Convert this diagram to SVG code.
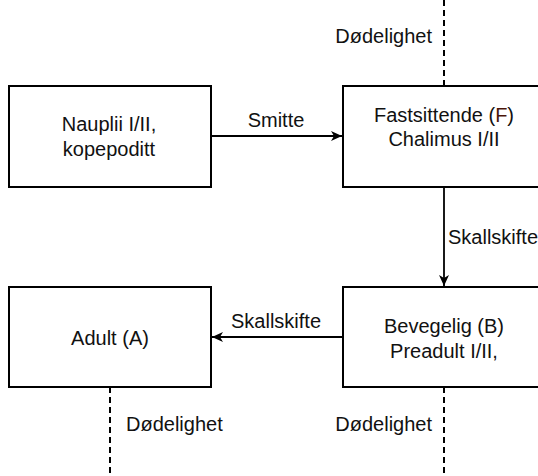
<svg xmlns="http://www.w3.org/2000/svg" width="538" height="476" viewBox="0 0 538 476">
<style>
  .box { fill: #ffffff; stroke: #000000; stroke-width: 2; }
  .t { font-family: "Liberation Sans", Arial, sans-serif; font-size: 20px; fill: #111111; }
  .c { text-anchor: middle; }
  .edge { fill: none; stroke: #000000; stroke-width: 1.8; }
  .dash { fill: none; stroke: #000000; stroke-width: 2; stroke-dasharray: 6 4; }
</style>
<defs>
  <marker id="arrow" viewBox="0 0 12 12" refX="11" refY="6" markerWidth="12" markerHeight="12" markerUnits="userSpaceOnUse" orient="auto">
    <path d="M0,1 L11,6 L0,11 L3,6 Z" fill="#000000"/>
  </marker>
</defs>
<rect width="538" height="476" fill="#ffffff"/>
<g id="connectors">
  <line class="edge" x1="211" y1="136" x2="342" y2="136" marker-end="url(#arrow)"/>
  <text class="t c" x="276" y="127">Smitte</text>
  <line class="edge" x1="444" y1="187" x2="444" y2="286" marker-end="url(#arrow)"/>
  <text class="t" x="448" y="244">Skallskifte</text>
  <line class="edge" x1="343" y1="337" x2="212" y2="337" marker-end="url(#arrow)"/>
  <text class="t c" x="276" y="328">Skallskifte</text>
  <line class="dash" x1="444" y1="0" x2="444" y2="86"/>
  <text class="t" x="432" y="43" text-anchor="end">Dødelighet</text>
  <line class="dash" x1="444" y1="387" x2="444" y2="476"/>
  <text class="t" x="432" y="431" text-anchor="end">Dødelighet</text>
  <line class="dash" x1="110" y1="387" x2="110" y2="476"/>
  <text class="t" x="126" y="431">Dødelighet</text>
</g>
<g id="nauplii">
  <rect class="box" x="9" y="86" width="202" height="101"/>
  <text class="t c" x="109" y="131">Nauplii I/II,</text>
  <text class="t c" x="109" y="156">kopepoditt</text>
</g>
<g id="fastsittende">
  <rect class="box" x="343" y="86" width="204" height="101"/>
  <text class="t c" x="444" y="122">Fastsittende (<tspan fill="#4a1408">F</tspan>)</text>
  <text class="t c" x="444" y="146">Chalimus I/II</text>
</g>
<g id="bevegelig">
  <rect class="box" x="343" y="287" width="204" height="100"/>
  <text class="t c" x="444" y="333">Bevegelig (B)</text>
  <text class="t c" x="444" y="358">Preadult I/II,</text>
</g>
<g id="adult">
  <rect class="box" x="9" y="287" width="202" height="100"/>
  <text class="t c" x="110" y="345">Adult (A)</text>
</g>
</svg>
